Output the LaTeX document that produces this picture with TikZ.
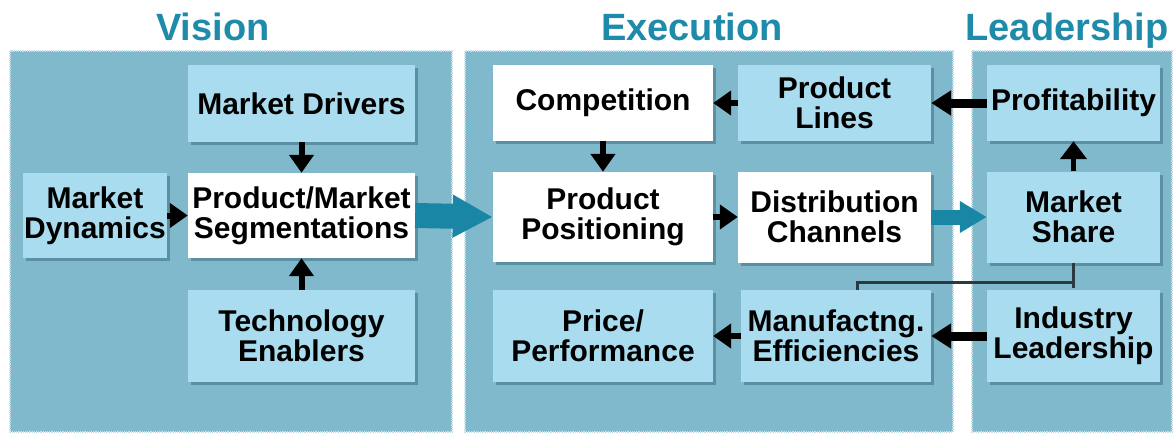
\documentclass[tikz,border=0pt]{standalone}
\usepackage{fontspec}
\setsansfont{Liberation Sans}
\usetikzlibrary{arrows.meta,shadows}

\definecolor{panelblue}{HTML}{80B9CC}
\definecolor{boxblue}{HTML}{A9DCEE}
\definecolor{tealtitle}{HTML}{1F8BAA}
\definecolor{tealarrow}{HTML}{1A86A6}
\definecolor{shadowblue}{HTML}{3E6F82}
\definecolor{linkgray}{HTML}{2B3A40}

\begin{document}
\begin{tikzpicture}[x=1pt,y=-1pt,
    panel/.style={fill=panelblue, draw=white!55!panelblue, densely dotted, line width=1.2pt},
    heading/.style={anchor=base, text=tealtitle, font=\sffamily\bfseries\fontsize{38}{38}\selectfont},
    box/.style={fill=boxblue, inner sep=0pt, align=center,
        font=\sffamily\bfseries\fontsize{30}{30}\selectfont,
        drop shadow={shadow xshift=3pt, shadow yshift=-3pt, fill=shadowblue, opacity=0.55}},
    whitebox/.style={box, fill=white},
    blk/.style={-{Triangle[width=24pt,length=18pt]}, line width=6pt},
    fatblk/.style={-{Triangle[width=24pt,length=20pt]}, line width=9pt},
    fatteal/.style={-{Triangle[width=40pt,length=40pt]}, line width=25pt, draw=tealarrow},
    teal/.style={-{Triangle[width=30pt,length=27pt]}, line width=15pt, draw=tealarrow},
    link/.style={draw=linkgray, line width=3pt}]
\useasboundingbox (0,0) rectangle (1176,434);

\fill[white] (0,0) rectangle (1176,434);
\draw[panel] (10,51) rectangle (452,432);
\draw[panel] (465,51) rectangle (953,432);
\draw[panel] (972,51) rectangle (1172,432);

\node[heading] (vision) at (213,40) {Vision};
\node[heading] (execution) at (692,40) {Execution};
\node[heading] (leadership) at (1067,40) {Leadership};

% Vision
\node[box, minimum width=227pt, minimum height=77pt] (drivers) at (301.5,103.5) {Market Drivers};
\node[whitebox, minimum width=227pt, minimum height=85pt] (segment) at (301.5,215.5) {Product/Market\\Segmentations};
\node[box, minimum width=227pt, minimum height=92pt] (techno) at (301.5,336) {Technology\\Enablers};
\node[box, minimum width=144pt, minimum height=85pt] (dynamics) at (95,215.5) {Market\\Dynamics};

% Execution
\node[whitebox, minimum width=220pt, minimum height=76pt] (compet) at (603,103) {Competition};
\node[box, minimum width=193pt, minimum height=76pt] (lines) at (834.5,103) {Product\\Lines};
\node[whitebox, minimum width=220pt, minimum height=90pt] (position) at (603,217) {Product\\Positioning};
\node[whitebox, minimum width=193pt, minimum height=91pt] (distrib) at (834.5,217) {Distribution\\Channels};
\node[box, minimum width=220pt, minimum height=92pt] (price) at (603,336) {Price/\\Performance};
\node[box, minimum width=190pt, minimum height=92pt] (manuf) at (836,336) {Manufactng.\\Efficiencies};

% Leadership
\node[box, minimum width=173pt, minimum height=76pt] (profit) at (1073.5,103) {Profitability};
\node[box, minimum width=173pt, minimum height=91pt] (share) at (1073.5,217) {Market\\Share};
\node[box, minimum width=173pt, minimum height=92pt] (industry) at (1073.5,336) {Industry\\Leadership};

\draw[blk] (drivers) -- (segment);
\draw[blk] (techno) -- (segment);
\draw[blk] (dynamics) -- (segment);
\draw[fatteal] (segment.east) -- (position.west);
\draw[blk] (compet) -- (position);
\draw[blk] (lines) -- (compet);
\draw[fatblk] (profit) -- (lines);
\draw[blk] (position) -- (distrib);
\draw[teal] (distrib.east) -- (share.west);
\draw[-{Triangle[width=26pt,length=18pt]}, line width=5pt] (share.north) -- (profit.south);
\draw[fatblk] (industry) -- (manuf);
\draw[blk] (manuf) -- (price);

\coordinate (bend) at (1073.5,282);
\draw[link] (share.south) -- ([yshift=-6pt]bend);
\draw[link] (bend) -| ([xshift=21pt]manuf.north);
\end{tikzpicture}
\end{document}
